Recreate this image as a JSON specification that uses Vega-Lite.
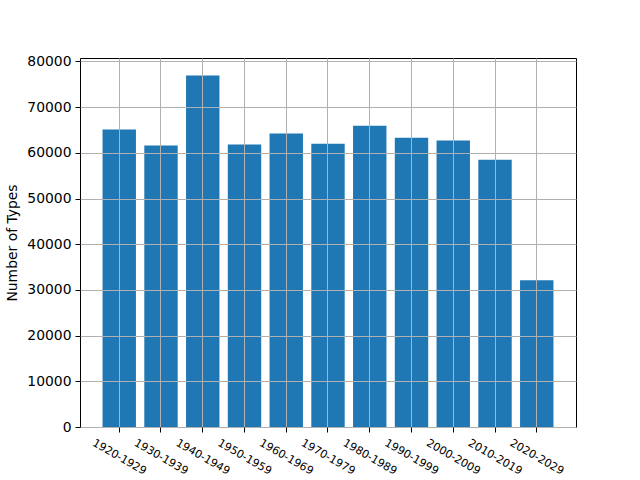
{
  "$schema": "https://vega.github.io/schema/vega-lite/v6.json",
  "width": 496,
  "height": 369,
  "autosize": {"type": "none"},
  "padding": {"left": 80, "top": 58, "right": 64, "bottom": 53},
  "background": "white",
  "config": {
    "font": "DejaVu Sans",
    "view": {"stroke": "black", "strokeWidth": 1},
    "axis": {"labelFont": "DejaVu Sans", "titleFont": "DejaVu Sans"}
  },
  "data": {
    "values": [
      {"decade": "1920-1929", "count": 65100},
      {"decade": "1930-1939", "count": 61600},
      {"decade": "1940-1949", "count": 76900},
      {"decade": "1950-1959", "count": 61800},
      {"decade": "1960-1969", "count": 64200},
      {"decade": "1970-1979", "count": 62000},
      {"decade": "1980-1989", "count": 65900},
      {"decade": "1990-1999", "count": 63300},
      {"decade": "2000-2009", "count": 62700},
      {"decade": "2010-2019", "count": 58500},
      {"decade": "2020-2029", "count": 32100}
    ]
  },
  "mark": {"type": "bar", "color": "#1f77b4"},
  "encoding": {
    "x": {
      "field": "decade",
      "type": "nominal",
      "sort": null,
      "scale": {"paddingInner": 0.2, "paddingOuter": 0.54},
      "axis": {
        "title": null,
        "zindex": 1,
        "grid": true,
        "bandPosition": 0.5,
        "gridColor": "#b0b0b0",
        "gridWidth": 1,
        "domain": false,
        "tickColor": "black",
        "tickSize": 5,
        "labelAngle": 30,
        "labelAlign": "center",
        "labelBaseline": "middle",
        "labelPadding": 25,
        "labelFontSize": 11,
        "labelColor": "black"
      }
    },
    "y": {
      "field": "count",
      "type": "quantitative",
      "scale": {"domain": [0, 80745], "nice": false, "zero": true},
      "axis": {
        "title": "Number of Types",
        "titleFontSize": 13.9,
        "titleFontWeight": "normal",
        "titleColor": "black",
        "titlePadding": 7,
        "zindex": 1,
        "values": [0, 10000, 20000, 30000, 40000, 50000, 60000, 70000, 80000],
        "format": "d",
        "grid": true,
        "gridColor": "#b0b0b0",
        "gridWidth": 1,
        "domain": false,
        "tickColor": "black",
        "tickSize": 5,
        "labelPadding": 4,
        "labelFontSize": 13.9,
        "labelColor": "black"
      }
    }
  }
}
